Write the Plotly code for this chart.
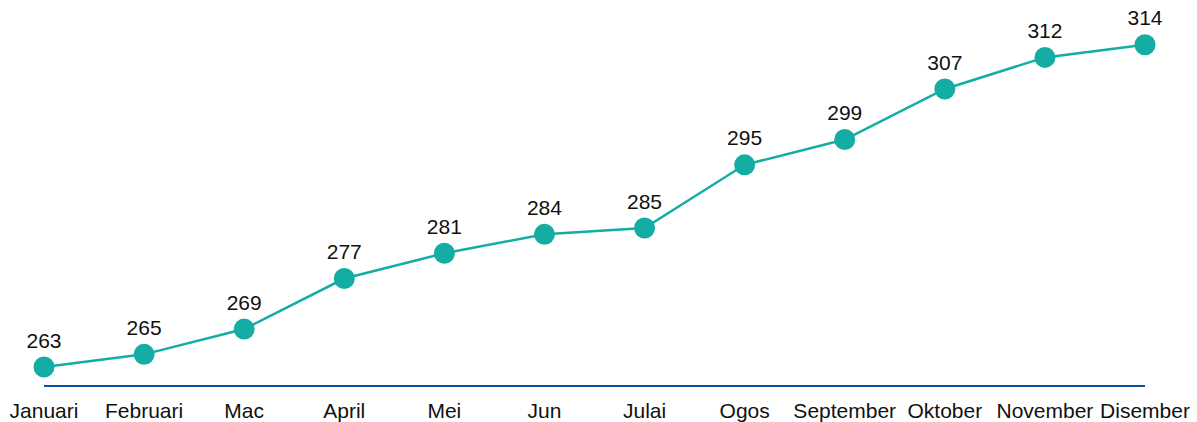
import plotly.graph_objects as go

months = ["Januari", "Februari", "Mac", "April", "Mei", "Jun", "Julai",
          "Ogos", "September", "Oktober", "November", "Disember"]
values = [263, 265, 269, 277, 281, 284, 285, 295, 299, 307, 312, 314]

TEAL = "#14ADA3"
FONT = "Liberation Sans, Arial, sans-serif"

fig = go.Figure()
fig.add_trace(go.Scatter(
    x=months, y=values, mode="lines+markers+text",
    line=dict(color=TEAL, width=2.5),
    marker=dict(color=TEAL, size=21),
    text=[str(v) for v in values], textposition="top center",
    textfont=dict(family=FONT, size=21, color="#111111"),
    cliponaxis=False, hoverinfo="skip",
))
fig.update_layout(
    width=1197, height=422,
    margin=dict(l=44, r=52, t=10, b=37, autoexpand=False),
    paper_bgcolor="white", plot_bgcolor="white",
    showlegend=False,
    font=dict(family=FONT, size=21, color="#111111"),
)
fig.update_xaxes(
    type="category", range=[0, 11], showgrid=False, zeroline=False,
    automargin=False,
    showline=True, linecolor="#0D4EA6", linewidth=2,
    ticks="outside", ticklen=6, tickcolor="rgba(0,0,0,0)",
    tickfont=dict(family=FONT, size=21, color="#111111"),
)
fig.update_yaxes(
    range=[260.15, 319.5], showgrid=False, zeroline=False, showline=False,
    showticklabels=False, ticks="", automargin=False,
)
fig.write_html(
    "out.html",
    config={"displayModeBar": False, "staticPlot": True},
    post_script="document.body.style.margin='0';document.body.style.overflow='hidden';",
)
